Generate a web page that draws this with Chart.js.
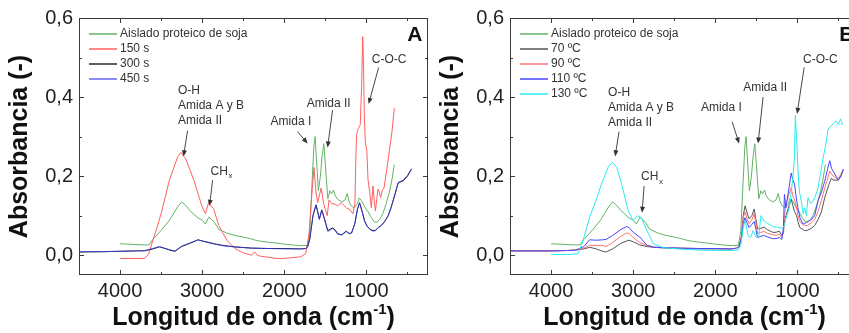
<!DOCTYPE html>
<html lang="es">
<head>
<meta charset="UTF-8" />
<title>Espectros FTIR</title>
<script src="https://cdn.jsdelivr.net/npm/chart.js@4"></script>
<style>
  html, body { margin: 0; padding: 0; background: #fff; overflow: hidden; width: 849px; height: 333px; }
  canvas { position: absolute; top: 0; }
  #chartA { left: 0; }
  #chartB { left: 425px; }
</style>
</head>
<body>
<canvas id="chartA" width="440" height="333" style="width:440px;height:333px"></canvas>
<canvas id="chartB" width="440" height="333" style="width:440px;height:333px"></canvas>
<script>
// axis ticks
const xTicks = [4000, 3000, 2000, 1000];
const yTicks = [0, 0.2, 0.4, 0.6];

// Aislado proteico de soja (same sample in both panels)
const soyWave = [4000, 3700, 3650, 3600, 3500, 3400, 3300, 3250, 3200, 3150, 3050, 3000, 2960, 2920, 2880, 2850, 2800, 2700, 2600, 2500, 2400, 2350, 2300, 2200, 2100, 2000, 1900, 1800, 1720, 1690, 1665, 1640, 1625, 1610, 1585, 1560, 1540, 1519, 1500, 1470, 1445, 1425, 1400, 1380, 1340, 1300, 1260, 1234, 1210, 1185, 1150, 1110, 1087, 1060, 1020, 980, 940, 903, 870, 840, 800, 760, 720, 690, 660];
const soyAbs = [0.029, 0.026, 0.026, 0.04, 0.063, 0.088, 0.122, 0.135, 0.126, 0.113, 0.094, 0.089, 0.079, 0.096, 0.09, 0.083, 0.066, 0.056, 0.05, 0.046, 0.041, 0.038, 0.036, 0.033, 0.031, 0.028, 0.026, 0.024, 0.025, 0.06, 0.17, 0.275, 0.30, 0.25, 0.163, 0.2, 0.25, 0.282, 0.23, 0.143, 0.163, 0.155, 0.165, 0.15, 0.14, 0.135, 0.14, 0.156, 0.135, 0.125, 0.12, 0.13, 0.145, 0.138, 0.122, 0.11, 0.095, 0.084, 0.084, 0.09, 0.105, 0.13, 0.16, 0.19, 0.229];

// panel A: time series
const wave150 = [4000, 3700, 3650, 3600, 3550, 3500, 3400, 3300, 3260, 3200, 3100, 3000, 2960, 2920, 2900, 2860, 2800, 2700, 2600, 2500, 2400, 2360, 2330, 2300, 2200, 2100, 2000, 1900, 1800, 1740, 1700, 1670, 1638, 1615, 1593, 1552, 1520, 1478, 1455, 1420, 1393, 1350, 1307, 1245, 1200, 1164, 1140, 1128, 1120, 1100, 1075, 1058, 1045, 1035, 1025, 1013, 995, 980, 960, 940, 920, 905, 891, 875, 858, 843, 827, 805, 786, 750, 720, 690, 660];
const abs150 = [-0.008, -0.008, 0.004, 0.038, 0.07, 0.105, 0.189, 0.248, 0.26, 0.244, 0.189, 0.122, 0.105, 0.134, 0.125, 0.118, 0.076, 0.038, 0.017, 0.006, 0.0, 0.008, 0.0, -0.002, -0.005, -0.008, -0.008, -0.006, -0.004, 0.004, 0.05, 0.14, 0.222, 0.16, 0.133, 0.17, 0.13, 0.10, 0.14, 0.13, 0.13, 0.125, 0.133, 0.12, 0.115, 0.105, 0.13, 0.25, 0.305, 0.32, 0.33, 0.43, 0.553, 0.48, 0.35, 0.285, 0.265, 0.19, 0.16, 0.12, 0.175, 0.14, 0.112, 0.14, 0.167, 0.16, 0.146, 0.165, 0.17, 0.22, 0.265, 0.31, 0.372];

const waveLong = [4500, 4200, 4000, 3800, 3700, 3600, 3520, 3450, 3380, 3330, 3250, 3150, 3080, 3050, 3000, 2950, 2850, 2750, 2600, 2400, 2200, 2000, 1800, 1740, 1715, 1690, 1675, 1650, 1613, 1573, 1544, 1510, 1470, 1440, 1410, 1380, 1349, 1300, 1246, 1210, 1180, 1140, 1110, 1083, 1050, 1023, 990, 950, 920, 890, 858, 820, 780, 735, 700, 650, 613, 580, 552, 500, 450];
const abs300 = [0.008, 0.009, 0.010, 0.011, 0.011, 0.016, 0.021, 0.017, 0.012, 0.01, 0.022, 0.03, 0.036, 0.039, 0.036, 0.034, 0.029, 0.025, 0.021, 0.018, 0.017, 0.017, 0.016, 0.017, 0.021, 0.04, 0.0625, 0.1, 0.127, 0.092, 0.115, 0.092, 0.0625, 0.066, 0.069, 0.064, 0.054, 0.052, 0.061, 0.055, 0.057, 0.08, 0.115, 0.133, 0.11, 0.0875, 0.073, 0.065, 0.0625, 0.063, 0.07, 0.075, 0.085, 0.10, 0.12, 0.155, 0.183, 0.186, 0.188, 0.2, 0.218];
const abs450 = [0.009, 0.009, 0.010, 0.011, 0.012, 0.017, 0.022, 0.017, 0.013, 0.011, 0.023, 0.031, 0.037, 0.039, 0.036, 0.033, 0.028, 0.024, 0.021, 0.018, 0.017, 0.016, 0.016, 0.017, 0.022, 0.042, 0.065, 0.102, 0.128, 0.09, 0.113, 0.09, 0.06, 0.064, 0.068, 0.062, 0.053, 0.051, 0.06, 0.054, 0.056, 0.082, 0.117, 0.132, 0.108, 0.086, 0.072, 0.064, 0.061, 0.062, 0.069, 0.075, 0.084, 0.10, 0.121, 0.157, 0.184, 0.187, 0.19, 0.202, 0.219];

// panel B: temperature series
const waveB = [4500, 4200, 4000, 3800, 3700, 3600, 3530, 3450, 3370, 3330, 3250, 3150, 3080, 3050, 3000, 2920, 2830, 2750, 2600, 2400, 2200, 2000, 1800, 1740, 1710, 1680, 1660, 1637, 1610, 1588, 1555, 1526, 1505, 1485, 1444, 1404, 1360, 1300, 1260, 1220, 1190, 1170, 1158, 1140, 1110, 1076, 1055, 1035, 1010, 994, 970, 933, 912, 880, 830, 790, 749, 707, 667, 630, 606, 585, 565, 530, 503, 470, 442];
const abs70 = [0.011, 0.011, 0.011, 0.012, 0.013, 0.016, 0.02, 0.016, 0.01, 0.008, 0.016, 0.03, 0.036, 0.038, 0.034, 0.026, 0.022, 0.02, 0.018, 0.017, 0.016, 0.016, 0.016, 0.018, 0.022, 0.05, 0.1, 0.125, 0.105, 0.092, 0.1, 0.117, 0.09, 0.067, 0.068, 0.071, 0.064, 0.058, 0.058, 0.061, 0.05, 0.055, 0.09, 0.1, 0.12, 0.142, 0.125, 0.11, 0.1, 0.085, 0.07, 0.065, 0.0625, 0.063, 0.068, 0.075, 0.09, 0.11, 0.146, 0.17, 0.185, 0.195, 0.19, 0.19, 0.19, 0.2, 0.217];
const abs90 = [0.011, 0.011, 0.011, 0.012, 0.013, 0.018, 0.025, 0.025, 0.025, 0.022, 0.032, 0.048, 0.056, 0.055, 0.045, 0.032, 0.025, 0.021, 0.019, 0.018, 0.017, 0.017, 0.016, 0.018, 0.022, 0.05, 0.095, 0.11, 0.09, 0.08, 0.09, 0.105, 0.08, 0.055, 0.058, 0.06, 0.055, 0.052, 0.05, 0.054, 0.045, 0.06, 0.1, 0.13, 0.15, 0.171, 0.15, 0.14, 0.12, 0.1, 0.085, 0.078, 0.075, 0.075, 0.082, 0.09, 0.11, 0.14, 0.17, 0.195, 0.2125, 0.205, 0.2, 0.195, 0.195, 0.205, 0.217];
const abs110 = [0.011, 0.011, 0.011, 0.012, 0.013, 0.022, 0.039, 0.038, 0.039, 0.04, 0.05, 0.065, 0.0725, 0.07, 0.058, 0.046, 0.025, 0.02, 0.019, 0.018, 0.017, 0.017, 0.016, 0.018, 0.022, 0.045, 0.08, 0.095, 0.08, 0.07, 0.078, 0.085, 0.065, 0.045, 0.048, 0.05, 0.046, 0.042, 0.042, 0.045, 0.04, 0.07, 0.154, 0.12, 0.16, 0.208, 0.19, 0.18, 0.14, 0.12, 0.095, 0.079, 0.08, 0.085, 0.09, 0.1, 0.1375, 0.16, 0.1875, 0.22, 0.239, 0.22, 0.2125, 0.2, 0.19, 0.2, 0.217];
const wave130 = [4000, 3800, 3674, 3620, 3530, 3450, 3386, 3300, 3252, 3200, 3141, 3060, 3000, 2945, 2900, 2834, 2753, 2630, 2400, 2200, 2000, 1800, 1720, 1690, 1660, 1637, 1600, 1570, 1540, 1500, 1470, 1444, 1400, 1360, 1300, 1240, 1200, 1180, 1158, 1130, 1097, 1070, 1055, 1035, 1025, 1008, 994, 975, 953, 930, 912, 890, 871, 840, 810, 780, 749, 720, 687, 655, 626, 595, 564, 530, 500, 475, 462, 450];
const abs130 = [0.002, 0.002, 0.003, 0.03, 0.096, 0.14, 0.18, 0.225, 0.235, 0.222, 0.18, 0.1125, 0.0875, 0.10, 0.095, 0.0625, 0.029, 0.019, 0.015, 0.013, 0.012, 0.012, 0.013, 0.025, 0.07, 0.088, 0.05, 0.045, 0.062, 0.045, 0.05, 0.10, 0.085, 0.08, 0.073, 0.07, 0.068, 0.07, 0.075, 0.1, 0.12, 0.17, 0.196, 0.25, 0.354, 0.29, 0.22, 0.16, 0.1375, 0.105, 0.12, 0.10, 0.146, 0.13, 0.1375, 0.15, 0.17, 0.205, 0.246, 0.28, 0.32, 0.325, 0.333, 0.34, 0.33, 0.345, 0.3375, 0.33];

const FONT = '"Liberation Sans", Arial, sans-serif';
const GREEN = 'rgb(100,178,100)';

function pts(xs, ys) {
    return xs.map((x, i) => ({ x: x, y: ys[i] }));
}

function series(label, xs, ys, color, order) {
    return { label: label, data: pts(xs, ys), borderColor: color, borderWidth: 1,
             pointRadius: 0, tension: 0, fill: false, order: order };
}

// annotations in data units (wavenumber, absorbance)
const notesA = {
    oh: [3294, 0.415], ohArrow: [3178, 0.315, 3227, 0.25],
    ch: [2898, 0.2125], chArrow: [2873, 0.19, 2910, 0.125],
    am1: [2167, 0.3375], am1Arrow: [1838, 0.3125, 1716, 0.2825],
    am2: [1728, 0.3825], am2Arrow: [1412, 0.3675, 1473, 0.2725],
    coc: [935, 0.495], cocArrow: [851, 0.475, 973, 0.3825],
    panel: ['A', 504, 0.5575]
};
const notesB = {
    oh: [3306, 0.41], ohArrow: [3172, 0.3125, 3220, 0.25],
    ch: [2904, 0.1975], chArrow: [2867, 0.175, 2892, 0.1075],
    am1: [2173, 0.3725], am1Arrow: [1795, 0.3375, 1710, 0.2825],
    am2: [1661, 0.4225], am2Arrow: [1418, 0.40, 1479, 0.2825],
    coc: [931, 0.495], cocArrow: [918, 0.475, 1004, 0.3575],
    panel: ['B', 492, 0.5575]
};

function arrow(ctx, x1, y1, x2, y2) {
    const ang = Math.atan2(y2 - y1, x2 - x1);
    ctx.beginPath();
    ctx.moveTo(x1, y1);
    ctx.lineTo(x2 - 4 * Math.cos(ang), y2 - 4 * Math.sin(ang));
    ctx.stroke();
    ctx.beginPath();
    ctx.moveTo(x2, y2);
    ctx.lineTo(x2 - 6 * Math.cos(ang) + 2.5 * Math.sin(ang), y2 - 6 * Math.sin(ang) - 2.5 * Math.cos(ang));
    ctx.lineTo(x2 - 6 * Math.cos(ang) - 2.5 * Math.sin(ang), y2 - 6 * Math.sin(ang) + 2.5 * Math.cos(ang));
    ctx.closePath();
    ctx.fill();
}

const decor = {
    id: 'decor',
    afterDraw(chart, args, opts) {
        const ctx = chart.ctx, a = chart.chartArea;
        const xs = chart.scales.x, ys = chart.scales.y;
        const X = v => xs.getPixelForValue(v), Y = v => ys.getPixelForValue(v);
        ctx.save();

        // frame and inward ticks
        ctx.strokeStyle = '#3a3a3a';
        ctx.lineWidth = 1;
        ctx.strokeRect(a.left + 0.5, a.top + 0.5, a.width - 1, a.height - 1);
        ctx.beginPath();
        for (let v = 500; v < 4500; v += 500) {
            const px = Math.round(X(v)) + 0.5, len = v % 1000 === 0 ? 5 : 3;
            ctx.moveTo(px, a.bottom); ctx.lineTo(px, a.bottom - len);
            ctx.moveTo(px, a.top); ctx.lineTo(px, a.top + len);
        }
        for (let k = 0; k <= 5; k++) {
            const py = Math.round(Y(k / 10)) + 0.5, len = k % 2 === 0 ? 5 : 3;
            ctx.moveTo(a.left, py); ctx.lineTo(a.left + len, py);
            ctx.moveTo(a.right, py); ctx.lineTo(a.right - len, py);
        }
        ctx.stroke();

        // legend
        ctx.font = '12px ' + FONT;
        ctx.textAlign = 'left';
        ctx.textBaseline = 'middle';
        chart.data.datasets.forEach((ds, i) => {
            const y = a.top + 16 + i * 15;
            ctx.strokeStyle = ds.borderColor;
            ctx.lineWidth = 1.5;
            ctx.beginPath();
            ctx.moveTo(a.left + 10, y); ctx.lineTo(a.left + 38, y);
            ctx.stroke();
            ctx.fillStyle = '#333';
            ctx.fillText(ds.label, a.left + 41, y);
        });

        // annotations
        const n = opts.notes;
        ctx.fillStyle = '#333';
        ctx.strokeStyle = '#333';
        ctx.lineWidth = 0.9;
        ['O-H', 'Amida A y B', 'Amida II'].forEach((t, i) => {
            ctx.fillText(t, X(n.oh[0]), Y(n.oh[1]) + i * 14.7);
        });
        ctx.fillText('CH', X(n.ch[0]), Y(n.ch[1]));
        const chW = ctx.measureText('CH').width;
        ctx.font = '8px ' + FONT;
        ctx.fillText('x', X(n.ch[0]) + chW + 0.5, Y(n.ch[1]) + 5);
        ctx.font = '12px ' + FONT;
        ctx.fillText('Amida I', X(n.am1[0]), Y(n.am1[1]));
        ctx.fillText('Amida II', X(n.am2[0]), Y(n.am2[1]));
        ctx.fillText('C-O-C', X(n.coc[0]), Y(n.coc[1]));
        [n.ohArrow, n.chArrow, n.am1Arrow, n.am2Arrow, n.cocArrow].forEach(r => {
            arrow(ctx, X(r[0]), Y(r[1]), X(r[2]), Y(r[3]));
        });
        ctx.fillStyle = '#111';
        ctx.font = 'bold 21px ' + FONT;
        ctx.fillText(n.panel[0], X(n.panel[1]), Y(n.panel[2]));

        // axis titles
        ctx.fillStyle = '#111';
        ctx.save();
        ctx.translate(a.left - 59, (a.top + a.bottom) / 2);
        ctx.rotate(-Math.PI / 2);
        ctx.textAlign = 'center';
        ctx.textBaseline = 'middle';
        ctx.font = 'bold 25px ' + FONT;
        ctx.fillText('Absorbancia (-)', 0, 0);
        ctx.restore();

        const big = 'bold 25px ' + FONT, small = 'bold 15px ' + FONT;
        ctx.font = big;
        const w1 = ctx.measureText('Longitud de onda (cm').width;
        const w3 = ctx.measureText(')').width;
        ctx.font = small;
        const w2 = ctx.measureText('-1').width;
        let x = (a.left + a.right) / 2 - (w1 + w2 + w3) / 2;
        const base = 325;
        ctx.textAlign = 'left';
        ctx.textBaseline = 'alphabetic';
        ctx.font = big; ctx.fillText('Longitud de onda (cm', x, base); x += w1;
        ctx.font = small; ctx.fillText('-1', x, base - 11); x += w2;
        ctx.font = big; ctx.fillText(')', x, base);
        ctx.restore();
    }
};

function makeChart(id, datasets, notes, yWidth, rightPad) {
    return new Chart(document.getElementById(id), {
        type: 'line',
        data: { datasets: datasets },
        options: {
            responsive: false,
            animation: false,
            devicePixelRatio: 1,
            layout: { padding: { top: 16, right: rightPad, bottom: 0, left: 0 } },
            plugins: { legend: { display: false }, tooltip: { enabled: false }, decor: { notes: notes } },
            scales: {
                x: {
                    type: 'linear', reverse: true, min: 250, max: 4500,
                    grid: { display: false, drawTicks: false }, border: { display: false },
                    afterBuildTicks: s => { s.ticks = xTicks.map(v => ({ value: v })); },
                    afterFit: s => { s.height = 58; },
                    ticks: { padding: 4, maxRotation: 0, autoSkip: false, color: '#222',
                             font: { family: FONT, size: 20 }, callback: v => String(v) }
                },
                y: {
                    min: -0.05, max: 0.6,
                    grid: { display: false, drawTicks: false }, border: { display: false },
                    afterBuildTicks: s => { s.ticks = yTicks.map(v => ({ value: v })); },
                    afterFit: s => { s.width = yWidth; },
                    ticks: { padding: 6, color: '#222', font: { family: FONT, size: 20 },
                             callback: v => v.toFixed(1).replace('.', ',') }
                }
            }
        },
        plugins: [decor]
    });
}

makeChart('chartA', [
    series('Aislado proteico de soja', soyWave, soyAbs, GREEN, 4),
    series('150 s', wave150, abs150, 'rgb(255,95,95)', 3),
    series('300 s', waveLong, abs300, '#2a2a2a', 2),
    series('450 s', waveLong, abs450, 'rgba(50,50,235,0.75)', 1)
], notesA, 79, 12);

makeChart('chartB', [
    series('Aislado proteico de soja', soyWave, soyAbs, GREEN, 5),
    series('70 ºC', waveB, abs70, '#555555', 4),
    series('90 ºC', waveB, abs90, 'rgb(255,115,115)', 3),
    series('110 ºC', waveB, abs110, 'rgb(70,70,255)', 2),
    series('130 ºC', wave130, abs130, 'rgb(40,235,240)', 1)
], notesB, 85, 6);
</script>
</body>
</html>
